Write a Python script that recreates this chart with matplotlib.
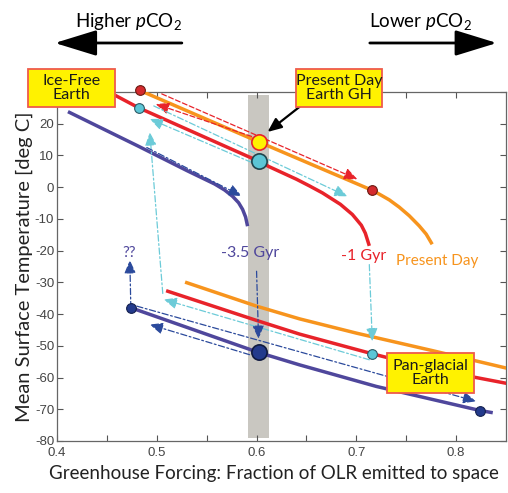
import matplotlib
matplotlib.use("Agg")
import matplotlib.pyplot as plt
from matplotlib.patches import Rectangle

# ---- curves (x = fraction of OLR, y = deg C) ----
present_up_x = [0.483, 0.602, 0.716, 0.723, 0.733, 0.743, 0.753, 0.763, 0.770, 0.776]
present_up_y = [30.5, 14.3, -1.0, -2.2, -4.0, -6.3, -9.0, -12.2, -14.8, -18.0]
present_lo_x = [0.530, 0.600, 0.643, 0.700, 0.776, 0.850]
present_lo_y = [-30.1, -37.5, -41.5, -46.0, -51.5, -57.0]

gyr1_up_x = [0.458, 0.482, 0.602, 0.613, 0.640, 0.653, 0.666, 0.676, 0.684, 0.690,
             0.696, 0.700, 0.705, 0.709, 0.713]
gyr1_up_y = [29.0, 25.0, 8.2, 6.4, 2.5, 0.4, -1.8, -3.8, -5.4, -7.0,
             -8.6, -10.1, -12.0, -14.5, -18.5]
gyr1_lo_x = [0.511, 0.600, 0.643, 0.717, 0.780, 0.850]
gyr1_lo_y = [-32.8, -42.0, -46.3, -52.6, -57.6, -61.8]

gyr35_up_x = [0.411, 0.481, 0.531, 0.558, 0.568, 0.576, 0.582, 0.586, 0.589, 0.591]
gyr35_up_y = [23.8, 13.0, 5.1, 1.0, -0.9, -2.9, -4.9, -7.0, -9.4, -12.3]
gyr35_lo_x = [0.474, 0.602, 0.643, 0.720, 0.824, 0.835]
gyr35_lo_y = [-38.0, -52.1, -56.0, -62.8, -70.4, -71.0]

# ---- marked states ----
red_dots_x = [0.483, 0.716]
red_dots_y = [30.5, -1.0]
cyan_dots_x = [0.482, 0.716]
cyan_dots_y = [25.0, -52.6]
navy_dots_x = [0.474, 0.824]
navy_dots_y = [-38.0, -70.4]
big_dots_x = [0.602, 0.602, 0.602]
big_dots_y = [14.3, 8.2, -52.1]

# ---- dashed transition arrows: (x0, y0, x1, y1), arrow head at (x1, y1) ----
red_arrows = [(0.505, 29.4, 0.701, 2.5),
              (0.595, 16.0, 0.499, 26.2)]
cyan_arrows = [(0.497, 25.6, 0.691, -2.9),
               (0.595, 7.8, 0.493, 21.5),
               (0.506, -33.5, 0.493, 17.3),
               (0.713, -54.4, 0.507, -35.4),
               (0.713, -24.4, 0.716, -48.6)]
navy_arrows = [(0.490, 12.5, 0.585, -2.8),
               (0.600, -26.5, 0.602, -47.8),
               (0.474, -38.0, 0.473, -23.0),
               (0.480, -37.5, 0.820, -67.5),
               (0.593, -52.8, 0.493, -43.3)]

# ---- label boxes: text, x0, x1, y0, y1 ----
box_texts = ["Ice-Free\nEarth", "Present Day\nEarth GH", "Pan-glacial\nEarth"]
box_x0 = [0.371, 0.640, 0.731]
box_x1 = [0.458, 0.726, 0.818]
box_y0 = [25.3, 25.3, -64.8]
box_y1 = [37.3, 37.3, -52.2]

ORANGE = "#F7941D"
RED = "#E8232A"
PURPLE = "#4F479C"
NAVY = "#2B4A9C"
CYAN = "#6CCBD8"
YELLOW = "#FFF200"
BOX_EDGE = "#EF5B4B"
FONT = "Lato"

plt.rcParams["mathtext.fontset"] = "custom"
plt.rcParams["mathtext.rm"] = FONT
plt.rcParams["mathtext.it"] = FONT + ":italic"

fig = plt.figure(figsize=(5.08, 4.93), dpi=100)
ax = fig.add_axes([0.1122, 0.1055, 0.8839, 0.7079])

ax.fill_between([0.591, 0.612], -79, 29, color="#C9C7C1", lw=0, zorder=1)

ax.plot(present_up_x, present_up_y, color=ORANGE, lw=2.5, zorder=3, solid_capstyle="butt")
ax.plot(present_lo_x, present_lo_y, color=ORANGE, lw=2.5, zorder=3)
ax.plot(gyr1_up_x, gyr1_up_y, color=RED, lw=2.5, zorder=3, solid_capstyle="butt")
ax.plot(gyr1_lo_x, gyr1_lo_y, color=RED, lw=2.5, zorder=3)
ax.plot(gyr35_up_x, gyr35_up_y, color=PURPLE, lw=2.5, zorder=3, solid_capstyle="butt")
ax.plot(gyr35_lo_x, gyr35_lo_y, color=PURPLE, lw=2.5, zorder=3)


def dashed_arrows(arrows, color, ls):
    for x0, y0, x1, y1 in arrows:
        ax.annotate("", xy=(x1, y1), xytext=(x0, y0), zorder=4,
                    arrowprops=dict(arrowstyle="-|>,head_length=0.8,head_width=0.35",
                                    color=color, lw=0.9, ls=ls,
                                    mutation_scale=10, shrinkA=0, shrinkB=0))


dashed_arrows(red_arrows, RED, (0, (4, 2)))
dashed_arrows(cyan_arrows, CYAN, (0, (5, 2, 1.5, 2)))
dashed_arrows(navy_arrows, NAVY, (0, (5, 2, 1.5, 2)))

ax.plot(red_dots_x, red_dots_y, "o", ms=7, mfc="#D42A2E", mec="#6B1A12", mew=0.8,
        zorder=6, clip_on=False)
ax.plot(cyan_dots_x, cyan_dots_y, "o", ms=7, mfc="#5CC6D6", mec="#2C5B66", mew=0.8,
        zorder=6, clip_on=False)
ax.plot(navy_dots_x, navy_dots_y, "o", ms=7, mfc="#233A8C", mec="#14204E", mew=0.8,
        zorder=6)
ax.plot(big_dots_x[0], big_dots_y[0], "o", ms=11, mfc=YELLOW, mec=RED, mew=1.2, zorder=6)
ax.plot(big_dots_x[1], big_dots_y[1], "o", ms=11, mfc="#5CC6D6", mec="#20454D", mew=1.2, zorder=6)
ax.plot(big_dots_x[2], big_dots_y[2], "o", ms=11, mfc="#233A8C", mec="#101A40", mew=1.2, zorder=6)

# black pointer to present day state
ax.annotate("", xy=(0.611, 17.4), xytext=(0.643, 25.3), zorder=7,
            arrowprops=dict(arrowstyle="-|>,head_length=0.7,head_width=0.3",
                            color="black", lw=1.6, mutation_scale=12,
                            shrinkA=0, shrinkB=0))

for txt, x0, x1, y0, y1 in zip(box_texts, box_x0, box_x1, box_y0, box_y1):
    ax.add_patch(Rectangle((x0, y0), x1 - x0, y1 - y0, fc=YELLOW, ec=BOX_EDGE,
                           lw=1.3, zorder=10, clip_on=False))
    ax.text((x0 + x1) / 2, (y0 + y1) / 2, txt, ha="center", va="center",
            fontsize=11.5, family=FONT, zorder=11, clip_on=False,
            linespacing=1.05, color="#1A1A1A")

ax.text(0.4723, -20.9, "??", color=PURPLE, ha="center", va="center", fontsize=11, family=FONT)
ax.text(0.594, -20.9, "-3.5 Gyr", color=PURPLE, ha="center", va="center", fontsize=11.5, family=FONT)
ax.text(0.7075, -21.7, "-1 Gyr", color=RED, ha="center", va="center", fontsize=11.5, family=FONT)
ax.text(0.781, -23.3, "Present Day", color=ORANGE, ha="center", va="center", fontsize=11, family=FONT)

ax.set_xlim(0.4, 0.85)
ax.set_ylim(-80, 30)
xt = [0.4, 0.45, 0.5, 0.55, 0.6, 0.65, 0.7, 0.75, 0.8]
ax.set_xticks(xt)
ax.set_xticklabels(["0.4", "", "0.5", "", "0.6", "", "0.7", "", "0.8"])
yt = list(range(-80, 31, 10))
ax.set_yticks(yt)
ax.set_yticklabels([str(v) if v < 30 else "" for v in yt])
ax.tick_params(direction="in", top=True, right=True, length=4, width=0.8,
               color="#555555", labelcolor="#444444", labelsize=9.5)
ax.tick_params(axis="x", pad=4)
ax.tick_params(axis="y", pad=2)
for lab in ax.get_xticklabels() + ax.get_yticklabels():
    lab.set_family("Liberation Sans")
for sp in ax.spines.values():
    sp.set_color("#666666")
    sp.set_linewidth(0.9)

ax.set_xlabel("Greenhouse Forcing: Fraction of OLR emitted to space",
              fontsize=13.5, family=FONT, color="#222222")
ax.xaxis.set_label_coords(0.483, -0.07)
ax.set_ylabel("Mean Surface Temperature [deg C]", fontsize=14.5, family=FONT,
              color="#222222", labelpad=1)

# pCO2 direction arrows above the plot
fig.text(0.253, 0.957, "Higher $p$CO$_2$", ha="center", va="center", fontsize=13.5, family=FONT)
fig.text(0.827, 0.957, "Lower $p$CO$_2$", ha="center", va="center", fontsize=13.5, family=FONT)
big_head = dict(arrowstyle="-|>,head_length=1.3,head_width=0.4", color="black",
                lw=2.0, mutation_scale=20, shrinkA=0, shrinkB=0)
ax.annotate("", xy=(0.108, 0.9128), xytext=(0.358, 0.9128), xycoords="figure fraction",
            textcoords="figure fraction", arrowprops=big_head, annotation_clip=False)
ax.annotate("", xy=(0.978, 0.9128), xytext=(0.728, 0.9128), xycoords="figure fraction",
            textcoords="figure fraction", arrowprops=big_head, annotation_clip=False)

fig.savefig("out.png", dpi=100)
